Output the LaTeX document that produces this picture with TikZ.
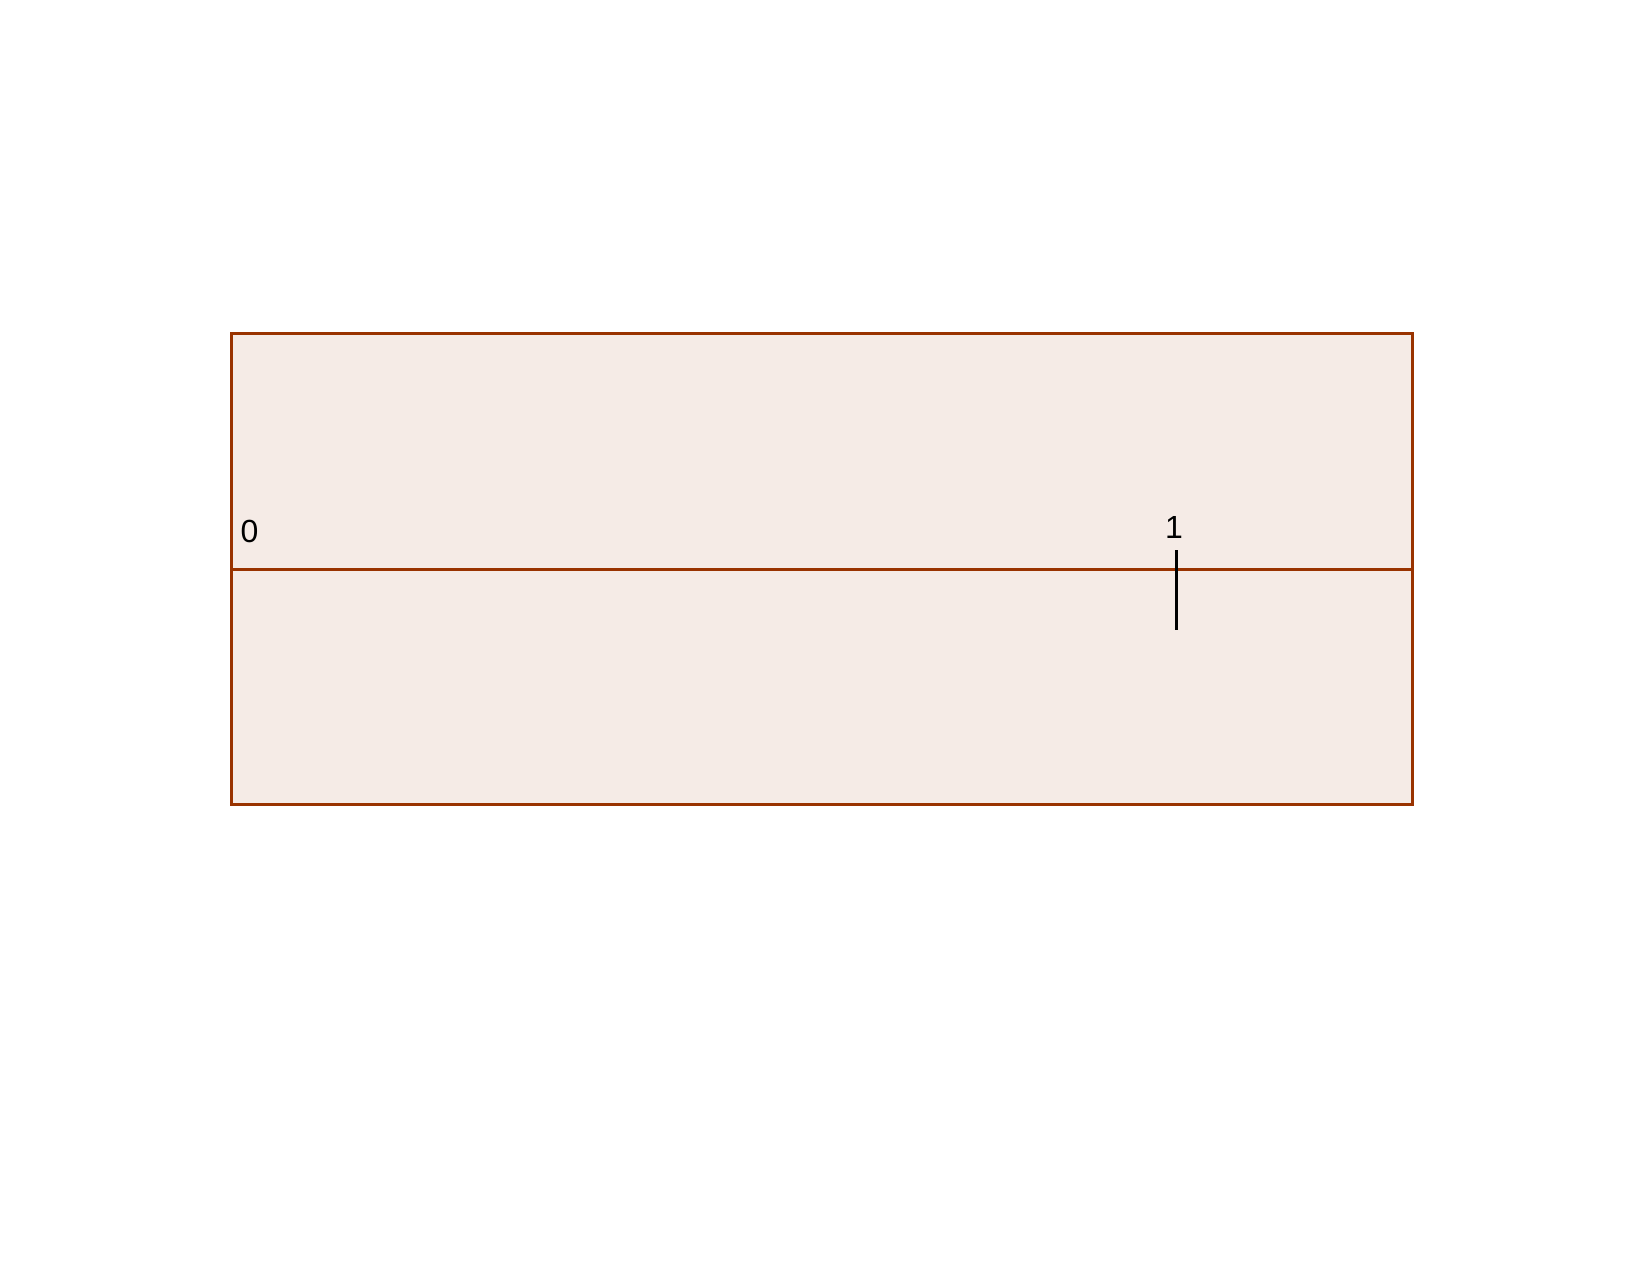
\documentclass[tikz,border=0pt]{standalone}
\usepackage{fontspec}
\setmainfont{Liberation Sans}
\definecolor{brn}{HTML}{993300}
\definecolor{brnfill}{HTML}{F5EBE6}
\begin{document}
\begin{tikzpicture}[x=0.5pt,y=-0.5pt,
  frame/.style={draw=brn,line width=1.5pt,fill=brnfill},
  axis/.style={draw=brn,line width=1.5pt},
  tickmark/.style={draw=black,line width=1.5pt},
  lbl/.style={font=\fontsize{16pt}{18pt}\selectfont,inner sep=0pt,anchor=center}]
\useasboundingbox (0,0) rectangle (1643,1267);
\coordinate (tl) at (231.7,333.3);
\coordinate (br) at (1412.3,804.7);
\coordinate (ml) at (231.7,569);
\coordinate (mr) at (1412.3,569);
\coordinate (t1) at (1176.7,550);
\coordinate (t2) at (1176.7,629.5);
\path[frame] (tl) rectangle (br);
\draw[axis] (ml) -- (mr);
\draw[tickmark] (t1) -- (t2);
\node[lbl] (zero) at (249.5,531.7) {0};
\node[lbl] (one) at (1174,527.5) {1};
\end{tikzpicture}
\end{document}
